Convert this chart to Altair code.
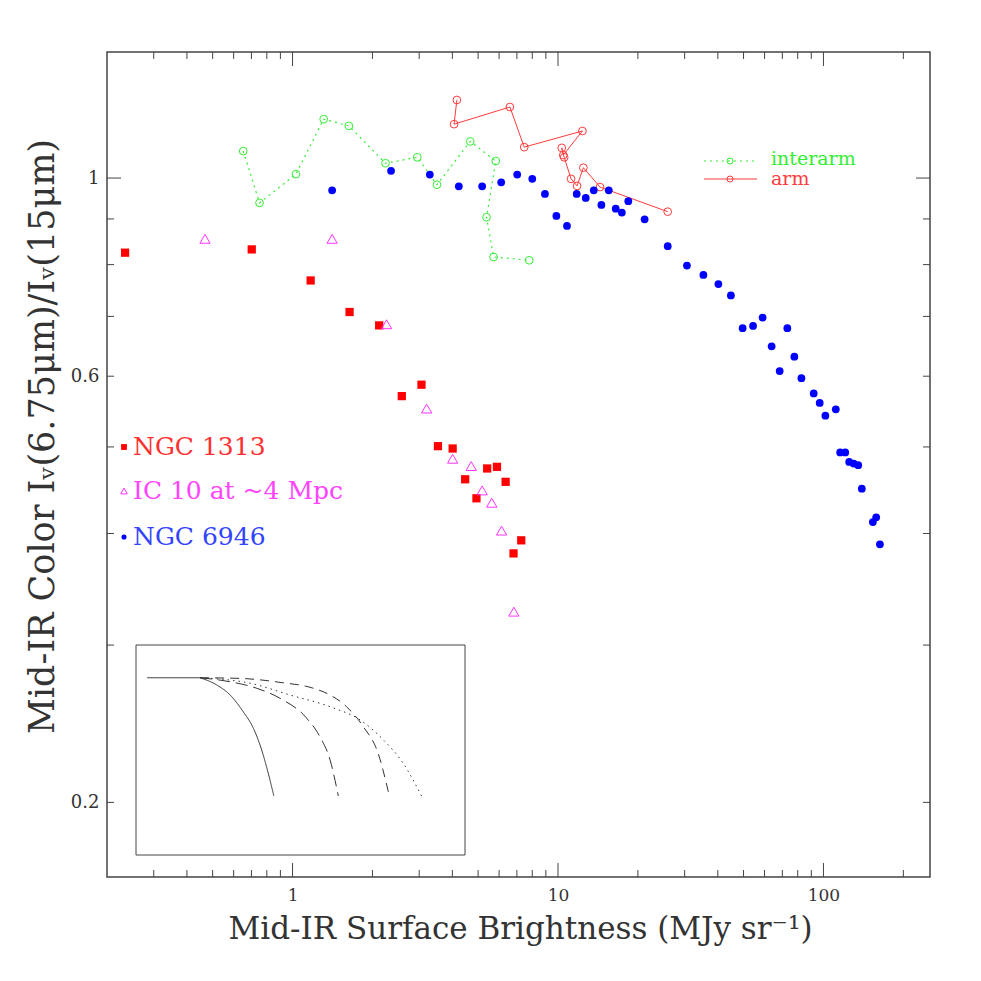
import altair as alt
import pandas as pd

# ---------------- data ----------------
# NGC 1313 (filled red squares)
ngc1313_x = [0.234, 0.702, 1.17, 1.64, 2.12, 2.58, 3.06, 3.53, 4.01, 4.47, 4.93, 5.41, 5.89, 6.35, 6.80, 7.27]
ngc1313_y = [0.825, 0.832, 0.768, 0.708, 0.684, 0.570, 0.587, 0.501, 0.498, 0.460, 0.438, 0.473, 0.475, 0.457, 0.380, 0.393]

# IC 10 at ~4 Mpc (open magenta triangles)
ic10_x = [0.468, 1.41, 2.26, 3.20, 4.01, 4.71, 5.18, 5.63, 6.13, 6.82]
ic10_y = [0.855, 0.855, 0.686, 0.552, 0.485, 0.476, 0.447, 0.433, 0.403, 0.327]

# NGC 6946 (filled blue dots)
ngc6946_x = [1.41, 2.35, 3.29, 4.23, 5.18, 6.11, 7.02, 8.0, 8.93, 9.86, 10.81, 11.76, 12.72, 13.64,
             15.53, 14.57, 16.5, 17.4, 18.4, 21.2, 25.9, 30.6, 35.3, 40.2, 44.8, 49.6, 54.3, 59.0,
             73.1, 63.8, 77.7, 68.4, 82.6, 91.9, 96.8, 101.7, 111.3, 115.6, 120.8, 125.0, 130.0,
             135.2, 139.5, 153.5, 158.0, 163.2]
ngc6946_y = [0.969, 1.019, 1.009, 0.979, 0.979, 0.989, 1.009, 0.998, 0.960, 0.907, 0.884, 0.960, 0.950, 0.969,
             0.969, 0.933, 0.924, 0.915, 0.942, 0.899, 0.839, 0.798, 0.779, 0.761, 0.739, 0.679, 0.683, 0.698,
             0.679, 0.648, 0.631, 0.608, 0.597, 0.574, 0.560, 0.542, 0.551, 0.493, 0.493, 0.481, 0.479,
             0.477, 0.449, 0.412, 0.417, 0.389]

# interarm profile (green, dotted, open circles) in path order
interarm_x = [0.652, 0.751, 1.03, 1.31, 1.63, 2.24, 2.95, 3.50, 4.67, 5.83, 5.38, 5.72, 7.79]
interarm_y = [1.072, 0.938, 1.010, 1.164, 1.144, 1.039, 1.055, 0.983, 1.099, 1.045, 0.904, 0.816, 0.809]

# arm profile (red, solid, open circles) in path order
arm_x = [4.16, 4.06, 6.59, 7.46, 12.36, 10.47, 10.33, 10.55, 11.2, 11.8, 12.46, 14.4, 25.9]
arm_y = [1.223, 1.149, 1.201, 1.083, 1.129, 1.061, 1.081, 1.055, 0.998, 0.980, 1.027, 0.977, 0.917]

# legends
left_legend_labels = ["NGC 1313", "IC 10 at ~4 Mpc", "NGC 6946"]
right_legend_labels = ["interarm", "arm"]

# axis tick values
x_label_values = [1, 10, 100]
x_major_ticks = [1, 10, 100]
x_minor_ticks = [0.3, 0.4, 0.5, 0.6, 0.7, 0.8, 0.9, 2, 3, 4, 5, 6, 7, 8, 9,
                 20, 30, 40, 50, 60, 70, 80, 90, 200]
y_label_values = [0.2, 0.6, 1]
y_major_ticks = [1]
y_minor_ticks = [0.2, 0.3, 0.4, 0.5, 0.6, 0.7, 0.8, 0.9]

# inset schematic curves (inset units: 0..100 across the inset box)
inset_flat_x = [3.4, 19.5]
inset_flat_y = [84.4, 84.4]
inset_solid_x = [19.5, 24.5, 28.6, 32.6, 35.7, 38.2, 40.2, 41.9]
inset_solid_y = [84.4, 81.0, 76.2, 68.2, 60.3, 50.0, 38.9, 28.1]
inset_longdash_x = [19.5, 28.6, 36.7, 43.8, 51.9, 55.9, 59.0, 61.5]
inset_longdash_y = [84.4, 82.5, 79.4, 74.6, 65.1, 56.3, 45.2, 28.1]
inset_dash_x = [19.5, 31.6, 43.8, 53.9, 59.0, 64.0, 69.1, 73.6, 77.0]
inset_dash_y = [84.4, 84.1, 82.2, 79.4, 76.2, 70.6, 61.1, 48.4, 28.1]
inset_dot_x = [19.5, 34.7, 46.8, 59.0, 68.1, 75.2, 81.2, 86.8]
inset_dot_y = [84.4, 81.8, 76.2, 70.6, 64.3, 54.8, 43.7, 28.1]

# ---------------- styling / layout ----------------
W, H = 823, 825
FONT = "DejaVu Serif"
AX = "#444444"
TXT = "#333333"
GREEN = "#33ee33"
RED_LINE = "#ff3b3b"

x_scale = alt.Scale(type="log", domain=[0.2, 252], nice=False)
y_scale = alt.Scale(type="log", domain=[0.165, 1.384], nice=False)

x_axis = alt.Axis(values=x_label_values, format="~g", ticks=False, tickSize=0, domain=False, grid=False,
                  labelFont=FONT, labelFontSize=17, labelColor=TXT, labelPadding=10, labelFlush=False,
                  title="Mid-IR Surface Brightness (MJy sr⁻¹)", titleFont=FONT, titleFontSize=31,
                  titleFontWeight="normal", titleColor=TXT, titleX=413, titleY=61,
                  titleAlign="center", titleBaseline="alphabetic")
y_axis = alt.Axis(values=y_label_values, format="~g", ticks=False, tickSize=0, domain=False, grid=False,
                  labelFont=FONT, labelFontSize=18, labelColor=TXT, labelPadding=8, labelFlush=False,
                  title="Mid-IR Color Iᵥ(6.75μm)/Iᵥ(15μm)", titleFont=FONT, titleFontSize=35,
                  titleFontWeight="normal", titleColor=TXT, titleX=-54, titleY=384, titleAngle=270,
                  titleAlign="center", titleBaseline="alphabetic")


def X():
    return alt.X("x:Q", scale=x_scale, axis=x_axis)


def Y():
    return alt.Y("y:Q", scale=y_scale, axis=y_axis)


def xy_df(xs, ys):
    return pd.DataFrame({"x": xs, "y": ys, "i": list(range(len(xs)))})


layers = []

# tick marks drawn inward on all four sides
MAJ, MIN = 14, 7
for vals, L in ((x_major_ticks, MAJ), (x_minor_ticks, MIN)):
    d = pd.DataFrame({"x": vals})
    layers.append(alt.Chart(d).mark_rule(color=AX, strokeWidth=1).encode(
        x=X(), y=alt.value(H), y2=alt.value(H - L)))
    layers.append(alt.Chart(d).mark_rule(color=AX, strokeWidth=1).encode(
        x=X(), y=alt.value(0), y2=alt.value(L)))
for vals, L in ((y_major_ticks, MAJ), (y_minor_ticks, MIN)):
    d = pd.DataFrame({"y": vals})
    layers.append(alt.Chart(d).mark_rule(color=AX, strokeWidth=1).encode(
        y=Y(), x=alt.value(0), x2=alt.value(L)))
    layers.append(alt.Chart(d).mark_rule(color=AX, strokeWidth=1).encode(
        y=Y(), x=alt.value(W), x2=alt.value(W - L)))

# interarm
d_inter = xy_df(interarm_x, interarm_y)
layers.append(alt.Chart(d_inter).mark_line(color=GREEN, strokeWidth=1.2, strokeDash=[2, 4]).encode(
    x=X(), y=Y(), order="i:Q"))
layers.append(alt.Chart(d_inter).mark_point(shape="circle", filled=False, color=GREEN, size=60,
                                            strokeWidth=1, opacity=1).encode(x=X(), y=Y()))
# arm
d_arm = xy_df(arm_x, arm_y)
layers.append(alt.Chart(d_arm).mark_line(color=RED_LINE, strokeWidth=1).encode(
    x=X(), y=Y(), order="i:Q"))
layers.append(alt.Chart(d_arm).mark_point(shape="circle", filled=False, color=RED_LINE, size=60,
                                          strokeWidth=1, opacity=1).encode(x=X(), y=Y()))
# NGC 1313
layers.append(alt.Chart(xy_df(ngc1313_x, ngc1313_y)).mark_point(
    shape="square", filled=True, color="#ff0000", size=68, opacity=1).encode(x=X(), y=Y()))
# IC 10
layers.append(alt.Chart(xy_df(ic10_x, ic10_y)).mark_point(
    shape="triangle-up", filled=False, color="#ff33ff", size=105, strokeWidth=1, opacity=1).encode(x=X(), y=Y()))
# NGC 6946
layers.append(alt.Chart(xy_df(ngc6946_x, ngc6946_y)).mark_point(
    shape="circle", filled=True, color="#0000ff", size=60, opacity=1).encode(x=X(), y=Y()))

# left legend
one = pd.DataFrame({"k": [0]})
left_styles = [("square", True, "#ff0000", "#ff3030", 34),
               ("triangle-up", False, "#ff33ff", "#ff44ff", 44),
               ("circle", True, "#0000ff", "#3344ff", 26)]
left_y = [395, 439, 485]
for lab, (shp, fil, mcol, tcol, sz), yy in zip(left_legend_labels, left_styles, left_y):
    layers.append(alt.Chart(one).mark_point(shape=shp, filled=fil, color=mcol, size=sz, strokeWidth=1,
                                            opacity=1).encode(x=alt.value(17), y=alt.value(yy)))
    layers.append(alt.Chart(one).mark_text(text=lab, font=FONT, fontSize=25, color=tcol, align="left",
                                           baseline="middle").encode(x=alt.value(26), y=alt.value(yy)))

# right legend
right_styles = [(GREEN, [2, 4], 109, 107), (RED_LINE, [1, 0], 127, 127)]
for lab, (col, dash, yy, ty) in zip(right_legend_labels, right_styles):
    layers.append(alt.Chart(one).mark_rule(color=col, strokeWidth=1.2, strokeDash=dash).encode(
        x=alt.value(597), x2=alt.value(650), y=alt.value(yy)))
    layers.append(alt.Chart(one).mark_point(shape="circle", filled=False, color=col, size=36,
                                            strokeWidth=1, opacity=1).encode(x=alt.value(623), y=alt.value(yy)))
    layers.append(alt.Chart(one).mark_text(text=lab, font=FONT, fontSize=19, color=col, align="left",
                                           baseline="middle").encode(x=alt.value(664), y=alt.value(ty)))

main = alt.layer(*layers)

# ---------------- inset ----------------
IL, IR, IT, IB = 29, 358, 593, 803
ix = alt.Scale(domain=[0, 100], range=[IL, IR])
iy = alt.Scale(domain=[0, 100], range=[IB, IT])


def inset_curve(xs, ys, dash):
    d = pd.DataFrame({"ux": xs, "uy": ys, "i": list(range(len(xs)))})
    return alt.Chart(d).mark_line(color="#333333", strokeWidth=1, strokeDash=dash, interpolate="monotone").encode(
        x=alt.X("ux:Q", scale=ix, axis=None), y=alt.Y("uy:Q", scale=iy, axis=None), order="i:Q")


inset_box = alt.Chart(one).mark_rect(fillOpacity=0, stroke=AX, strokeWidth=1).encode(
    x=alt.value(IL), x2=alt.value(IR), y=alt.value(IT), y2=alt.value(IB))

inset = alt.layer(
    inset_box,
    inset_curve(inset_flat_x, inset_flat_y, [1, 0]),
    inset_curve(inset_solid_x, inset_solid_y, [1, 0]),
    inset_curve(inset_longdash_x, inset_longdash_y, [12, 6]),
    inset_curve(inset_dash_x, inset_dash_y, [9, 6]),
    inset_curve(inset_dot_x, inset_dot_y, [1.5, 4]),
)

chart = alt.layer(main, inset).resolve_scale(x="independent", y="independent").properties(
    width=W, height=H,
    autosize=alt.AutoSizeParams(type="none"),
    padding={"left": 99, "top": 44, "right": 43, "bottom": 96},
).configure_view(stroke=AX, strokeWidth=1.5)

chart.save("out.html", embed_options={"renderer": "svg", "actions": False})
